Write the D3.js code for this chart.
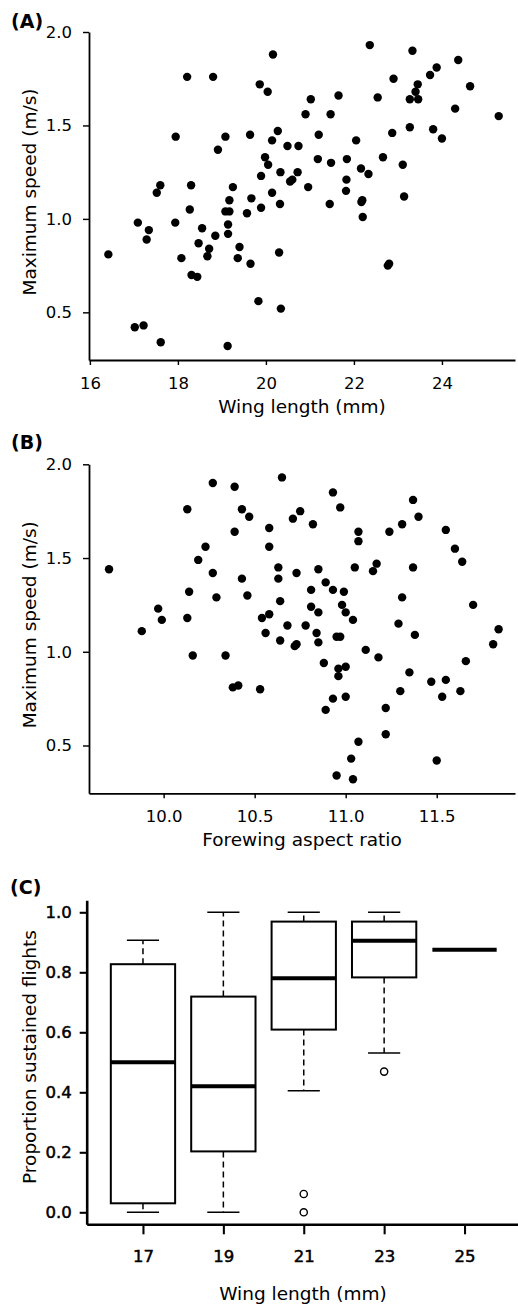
<!DOCTYPE html>
<html>
<head>
<meta charset="utf-8">
<script src="https://cdn.jsdelivr.net/npm/d3@7"></script>
<style>
  body { margin: 0; background: #fff; }
  text { font-family: "DejaVu Sans", sans-serif; fill: #000; }
</style>
</head>
<body>
<script>
(() => {
    // (A) wing length (mm) vs maximum speed (m/s)
    const wingSpeed = [
        [18.21, 1.76], [18.80, 1.76], [17.95, 1.44], [19.08, 1.44], [18.91, 1.37], [17.60, 1.18],
        [17.52, 1.14], [18.30, 1.18], [19.25, 1.17], [18.27, 1.05], [19.17, 1.10], [19.08, 1.04],
        [19.17, 1.04], [17.09, 0.98], [17.94, 0.98], [17.34, 0.94], [17.29, 0.89], [18.55, 0.95],
        [19.14, 0.97], [19.14, 0.92], [18.85, 0.91], [18.47, 0.87], [18.71, 0.84], [18.67, 0.80],
        [16.42, 0.81], [18.08, 0.79], [18.31, 0.70], [18.44, 0.69], [17.02, 0.42], [17.22, 0.43],
        [17.61, 0.34], [19.13, 0.32],
        [20.16, 1.88], [22.36, 1.93], [19.86, 1.72], [20.04, 1.68], [21.02, 1.64], [20.90, 1.56],
        [21.65, 1.66], [21.47, 1.56], [19.64, 1.45], [20.27, 1.47], [20.14, 1.42], [20.49, 1.39],
        [20.74, 1.39], [21.20, 1.45], [22.05, 1.42], [19.98, 1.33], [20.05, 1.29], [19.89, 1.23],
        [20.33, 1.25], [21.18, 1.32], [21.48, 1.30], [21.84, 1.32], [20.72, 1.25], [20.60, 1.21],
        [20.55, 1.20], [20.96, 1.17], [22.16, 1.27], [22.33, 1.24], [21.83, 1.21], [21.82, 1.15],
        [20.14, 1.14], [19.67, 1.11], [20.32, 1.08], [19.89, 1.06], [19.57, 1.03], [21.45, 1.08],
        [22.19, 1.10], [22.17, 1.09], [22.20, 1.01], [19.40, 0.85], [19.36, 0.79], [19.65, 0.76],
        [20.30, 0.82], [19.83, 0.56], [20.34, 0.52],
        [23.33, 1.90], [24.37, 1.85], [23.88, 1.81], [23.73, 1.77], [22.90, 1.75], [23.45, 1.72],
        [24.64, 1.71], [22.54, 1.65], [23.40, 1.68], [23.27, 1.64], [23.46, 1.64], [24.30, 1.59],
        [25.29, 1.55], [22.87, 1.46], [23.27, 1.49], [23.80, 1.48], [24.00, 1.43], [22.66, 1.33],
        [23.11, 1.29], [23.14, 1.12], [22.77, 0.75], [22.80, 0.76]
    ]

    // (B) forewing aspect ratio vs maximum speed (m/s)
    const aspectSpeed = [
        [9.70, 1.44], [10.27, 1.90], [10.39, 1.88], [10.13, 1.76], [10.39, 1.64], [10.23, 1.56],
        [10.19, 1.49], [10.27, 1.42], [10.14, 1.32], [10.29, 1.29], [9.97, 1.23], [9.99, 1.17],
        [10.13, 1.18], [9.88, 1.11], [10.16, 0.98], [10.34, 0.98], [10.38, 0.81], [10.41, 0.82],
        [10.65, 1.93], [10.43, 1.76], [10.47, 1.72], [10.58, 1.66], [10.58, 1.56], [10.71, 1.71],
        [10.75, 1.75], [10.82, 1.68], [10.93, 1.85], [10.97, 1.77], [11.07, 1.64], [11.07, 1.59],
        [11.05, 1.45], [11.17, 1.47], [11.15, 1.43], [10.43, 1.39], [10.46, 1.30], [10.63, 1.45],
        [10.63, 1.39], [10.73, 1.42], [10.85, 1.44], [10.64, 1.27], [10.81, 1.33], [10.89, 1.37],
        [10.93, 1.33], [10.99, 1.32], [10.81, 1.24], [10.85, 1.21], [10.98, 1.25], [11.00, 1.21],
        [11.04, 1.17], [10.54, 1.18], [10.58, 1.20], [10.56, 1.10], [10.68, 1.14], [10.78, 1.14],
        [10.64, 1.06], [10.72, 1.03], [10.73, 1.04], [10.84, 1.10], [10.85, 1.05], [10.95, 1.08],
        [10.97, 1.08], [11.11, 1.01], [11.18, 0.97], [10.88, 0.94], [10.96, 0.91], [10.96, 0.87],
        [11.00, 0.92], [10.53, 0.80], [10.93, 0.75], [11.00, 0.76], [10.89, 0.69], [11.07, 0.52],
        [11.03, 0.43], [10.95, 0.34], [11.04, 0.32],
        [11.37, 1.81], [11.40, 1.72], [11.31, 1.68], [11.24, 1.64], [11.55, 1.65], [11.60, 1.55],
        [11.64, 1.48], [11.37, 1.45], [11.31, 1.29], [11.70, 1.25], [11.29, 1.15], [11.38, 1.09],
        [11.84, 1.12], [11.81, 1.04], [11.66, 0.95], [11.35, 0.89], [11.47, 0.84], [11.55, 0.85],
        [11.30, 0.79], [11.63, 0.79], [11.53, 0.76], [11.22, 0.70], [11.22, 0.56], [11.50, 0.42]
    ]

    // (C) proportion of sustained flights by wing length class
    const wingClasses = [17, 19, 21, 23, 25]
    const whiskerLow = [0, 0, 0.405, 0.531, 0.875]
    const quart1 = [0.03, 0.203, 0.609, 0.783, 0.875]
    const medians = [0.50, 0.42, 0.78, 0.905, 0.875]
    const quart3 = [0.827, 0.719, 0.969, 0.969, 0.875]
    const whiskerHigh = [0.907, 1.0, 1.0, 1.0, 0.875]
    const outliers = [[], [], [0.061, 0], [0.469], []]

    const speedTicks = [0.5, 1.0, 1.5, 2.0]
    const wingTicks = [16, 18, 20, 22, 24]
    const aspectTicks = [10.0, 10.5, 11.0, 11.5]
    const propTicks = [0, 0.2, 0.4, 0.6, 0.8, 1.0]

    const svg = d3.select("body")
        .append("svg")
        .attr("width", 518)
        .attr("height", 1307)
    svg.append("rect").attr("width", 518).attr("height", 1307).attr("fill", "#fff")

    const styleAxis = (g, lw, fs) => {
        g.attr("font-family", null).attr("font-size", null)
        g.select(".domain").attr("stroke", "#000").attr("stroke-width", lw)
        g.selectAll(".tick line").attr("stroke", "#000").attr("stroke-width", lw * 0.8)
        g.selectAll(".tick text").style("font-size", fs + "px")
    }

    const scatterPanel = (data, x, y, xTicks, xFmt, xTitle, label, labelY) => {
        const yAxis = svg.append("g")
            .attr("transform", `translate(${x.range()[0]},0)`)
            .call(d3.axisLeft(y).tickValues(speedTicks).tickFormat(d3.format(".1f"))
                .tickSize(6).tickSizeOuter(0).tickPadding(11))
        styleAxis(yAxis, 1.8, 16.5)
        const xAxis = svg.append("g")
            .attr("transform", `translate(0,${y.range()[0]})`)
            .call(d3.axisBottom(x).tickValues(xTicks).tickFormat(xFmt)
                .tickSize(5).tickSizeOuter(0).tickPadding(12))
        styleAxis(xAxis, 1.8, 16.5)

        svg.append("g")
            .selectAll("circle")
            .data(data)
            .join("circle")
            .attr("cx", (d) => x(d[0]))
            .attr("cy", (d) => y(d[1]))
            .attr("r", 4.2)
            .attr("fill", "#000")

        svg.append("text")
            .attr("x", 302)
            .attr("y", y.range()[0] + 53)
            .attr("text-anchor", "middle")
            .style("font-size", "18.5px")
            .text(xTitle)
        const yMid = (y.range()[0] + y.range()[1]) / 2 - 4
        svg.append("text")
            .attr("transform", `translate(35.5,${yMid}) rotate(-90)`)
            .attr("text-anchor", "middle")
            .style("font-size", "18.5px")
            .text("Maximum speed (m/s)")
        svg.append("text")
            .attr("x", 11)
            .attr("y", labelY)
            .style("font-size", "19px")
            .style("font-weight", "bold")
            .text(label)
    }

    const xA = d3.scaleLinear().domain([15.98, 25.66]).range([89, 515])
    const yA = d3.scaleLinear().domain([0.245, 2.0]).range([360, 32])
    scatterPanel(wingSpeed, xA, yA, wingTicks, d3.format("d"), "Wing length (mm)", "(A)", 28)

    const xB = d3.scaleLinear().domain([9.59, 11.93]).range([89, 515])
    const yB = d3.scaleLinear().domain([0.245, 2.0]).range([793.3, 464.3])
    scatterPanel(aspectSpeed, xB, yB, aspectTicks, d3.format(".1f"), "Forewing aspect ratio", "(B)", 449)

    // box plot
    const xC = d3.scaleLinear().domain([0.3, 5.7]).range([86.7, 520.8])
    const yC = d3.scaleLinear().domain([-0.04, 1.04]).range([1224.3, 900.3])

    const yAxisC = svg.append("g")
        .attr("transform", "translate(86.7,0)")
        .call(d3.axisLeft(yC).tickValues(propTicks).tickFormat(d3.format(".1f"))
            .tickSize(7).tickSizeOuter(0).tickPadding(8))
    styleAxis(yAxisC, 2.6, 16.5)
    const xAxisC = svg.append("g")
        .attr("transform", "translate(0,1224.3)")
        .call(d3.axisBottom(xC).tickValues(d3.range(1, 6)).tickFormat((d) => wingClasses[d - 1])
            .tickSize(10).tickSizeOuter(0).tickPadding(16))
    styleAxis(xAxisC, 2.6, 16.5)
    yAxisC.selectAll(".tick text").attr("stroke", "#000").attr("stroke-width", 0.5)
    xAxisC.selectAll(".tick text").attr("stroke", "#000").attr("stroke-width", 0.5)

    const boxes = svg.append("g")
    wingClasses.forEach((_, i) => {
        const cx = xC(i + 1)
        const hw = xC(i + 1.4) - cx
        const g = boxes.append("g")
        const seg = (x1, y1, x2, y2) => g.append("line")
            .attr("x1", x1).attr("y1", y1).attr("x2", x2).attr("y2", y2)
            .attr("stroke", "#000")
        seg(cx, yC(quart3[i]), cx, yC(whiskerHigh[i])).attr("stroke-width", 1.5).attr("stroke-dasharray", "6,4")
        seg(cx, yC(quart1[i]), cx, yC(whiskerLow[i])).attr("stroke-width", 1.5).attr("stroke-dasharray", "6,4")
        seg(cx - hw / 2, yC(whiskerHigh[i]), cx + hw / 2, yC(whiskerHigh[i])).attr("stroke-width", 1.6)
        seg(cx - hw / 2, yC(whiskerLow[i]), cx + hw / 2, yC(whiskerLow[i])).attr("stroke-width", 1.6)
        g.append("rect")
            .attr("x", cx - hw)
            .attr("y", yC(quart3[i]))
            .attr("width", hw * 2)
            .attr("height", yC(quart1[i]) - yC(quart3[i]))
            .attr("fill", "#fff")
            .attr("stroke", "#000")
            .attr("stroke-width", 2)
        seg(cx - hw, yC(medians[i]), cx + hw, yC(medians[i])).attr("stroke-width", 4)
        g.selectAll("circle")
            .data(outliers[i])
            .join("circle")
            .attr("cx", cx)
            .attr("cy", (d) => yC(d))
            .attr("r", 3.6)
            .attr("fill", "none")
            .attr("stroke", "#000")
            .attr("stroke-width", 1.4)
    })

    svg.append("text")
        .attr("x", 303)
        .attr("y", 1300)
        .attr("text-anchor", "middle")
        .style("font-size", "18.5px")
        .text("Wing length (mm)")
    svg.append("text")
        .attr("transform", "translate(35.5,1057) rotate(-90)")
        .attr("text-anchor", "middle")
        .style("font-size", "18.5px")
        .text("Proportion sustained flights")
    svg.append("text")
        .attr("x", 10)
        .attr("y", 894)
        .style("font-size", "19px")
        .style("font-weight", "bold")
        .text("(C)")
})()
</script>
</body>
</html>
